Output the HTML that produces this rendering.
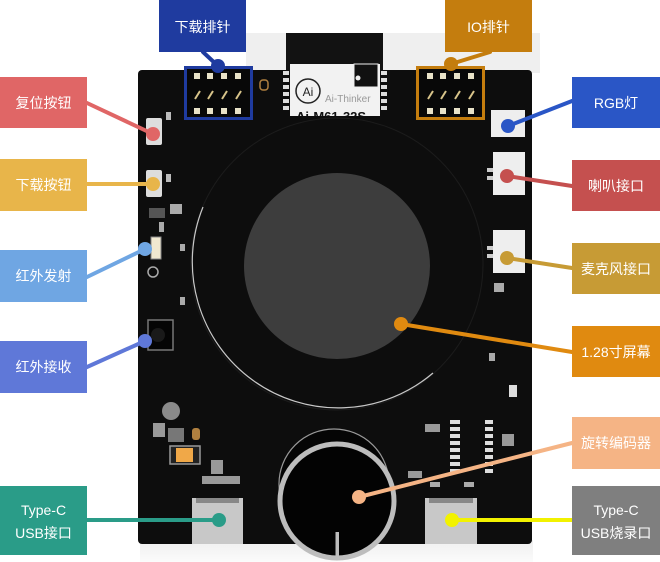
<!DOCTYPE html>
<html><head><meta charset="utf-8"><style>
html,body{margin:0;padding:0;background:#fff;}
svg{display:block;}
text{font-family:"Liberation Sans","Noto Sans CJK SC",sans-serif;}
.lb{fill:#fff;font-size:14px;text-anchor:middle;dominant-baseline:central;}
</style></head><body>
<svg width="660" height="562" viewBox="0 0 660 562" xmlns="http://www.w3.org/2000/svg">
<defs>
<linearGradient id="bg" x1="0" y1="0" x2="0" y2="1"><stop offset="0" stop-color="#efefef"/><stop offset="1" stop-color="#fbfbfb"/></linearGradient>
<clipPath id="modclip"><rect x="290" y="64" width="90" height="52"/></clipPath>
</defs>
<rect x="0" y="0" width="660" height="562" fill="#fff"/>
<rect x="246" y="33" width="294" height="40" fill="#efefef"/>
<rect x="140" y="540" width="393" height="22" fill="url(#bg)"/>

<!-- board -->
<rect x="138" y="70" width="394" height="474" rx="4" fill="#0d0d0d"/>

<!-- module -->
<rect x="286" y="33" width="97" height="40" fill="#121212"/>
<g clip-path="url(#modclip)">
<rect x="290" y="64" width="90" height="52" fill="#f2f2f2"/>
<text x="296" y="121" font-size="13" font-weight="bold" fill="#111">Ai-M61-32S</text>
</g>
<rect x="354" y="64" width="24" height="23" fill="#111" stroke="#eee" stroke-width="1"/>
<circle cx="358" cy="78" r="2.5" fill="#eee"/>
<circle cx="308" cy="91" r="12" fill="none" stroke="#222" stroke-width="1.5"/>
<text x="308" y="96" font-size="12" text-anchor="middle" fill="#222">Ai</text>
<text x="325" y="102" font-size="10" fill="#999">Ai-Thinker</text>
<g fill="#ddd">
<rect x="283" y="71" width="6" height="4"/><rect x="283" y="78" width="6" height="4"/><rect x="283" y="85" width="6" height="4"/><rect x="283" y="92" width="6" height="4"/><rect x="283" y="99" width="6" height="4"/><rect x="283" y="106" width="6" height="4"/>
<rect x="381" y="71" width="6" height="4"/><rect x="381" y="78" width="6" height="4"/><rect x="381" y="85" width="6" height="4"/><rect x="381" y="92" width="6" height="4"/><rect x="381" y="99" width="6" height="4"/><rect x="381" y="106" width="6" height="4"/>
</g>
<rect x="260" y="80" width="8" height="10" rx="3" fill="none" stroke="#b08040" stroke-width="1.5"/>

<!-- headers -->
<rect x="185.5" y="67.5" width="66" height="51" fill="#080808" stroke="#1f3b9f" stroke-width="3"/>
<rect x="417.5" y="67.5" width="66" height="51" fill="#080808" stroke="#c47d0e" stroke-width="3"/>
<g fill="#e8e2c8">
<rect x="194" y="73" width="6" height="6"/><rect x="207" y="73" width="6" height="6"/><rect x="221" y="73" width="6" height="6"/><rect x="235" y="73" width="6" height="6"/>
<rect x="194" y="108" width="6" height="6"/><rect x="207" y="108" width="6" height="6"/><rect x="221" y="108" width="6" height="6"/><rect x="235" y="108" width="6" height="6"/>
<rect x="427" y="73" width="6" height="6"/><rect x="440" y="73" width="6" height="6"/><rect x="454" y="73" width="6" height="6"/><rect x="468" y="73" width="6" height="6"/>
<rect x="427" y="108" width="6" height="6"/><rect x="440" y="108" width="6" height="6"/><rect x="454" y="108" width="6" height="6"/><rect x="468" y="108" width="6" height="6"/>
</g>
<g stroke="#d8c48a" stroke-width="2">
<line x1="195" y1="99" x2="200" y2="91"/><line x1="208" y1="99" x2="213" y2="91"/><line x1="222" y1="99" x2="227" y2="91"/><line x1="236" y1="99" x2="241" y2="91"/>
<line x1="428" y1="99" x2="433" y2="91"/><line x1="441" y1="99" x2="446" y2="91"/><line x1="455" y1="99" x2="460" y2="91"/><line x1="469" y1="99" x2="474" y2="91"/>
</g>

<!-- display -->
<circle cx="337" cy="264" r="146" fill="none" stroke="#1c1c1c" stroke-width="1"/>
<path d="M203 207 A146 146 0 0 0 433 373" fill="none" stroke="#c8c8c8" stroke-width="1.2"/>
<circle cx="337" cy="266" r="93" fill="#3d3d3d"/>

<!-- left components -->
<rect x="146" y="118" width="16" height="27" rx="2" fill="#ddd"/>
<rect x="166" y="112" width="5" height="8" fill="#bbb"/>
<rect x="146" y="170" width="16" height="27" rx="2" fill="#ddd"/>
<rect x="166" y="174" width="5" height="8" fill="#bbb"/>
<rect x="149" y="208" width="16" height="10" fill="#555"/>
<rect x="170" y="204" width="12" height="10" fill="#aaa"/>
<rect x="159" y="222" width="5" height="10" fill="#aaa"/>
<rect x="151" y="237" width="10" height="22" fill="#f0e8d0" stroke="#888" stroke-width="1"/>
<rect x="180" y="244" width="5" height="7" fill="#aaa"/>
<circle cx="153" cy="272" r="5" fill="none" stroke="#aaa" stroke-width="1.5"/>
<rect x="180" y="297" width="5" height="8" fill="#aaa"/>
<rect x="148" y="320" width="25" height="30" fill="#050505" stroke="#777" stroke-width="1.5"/>
<circle cx="158" cy="335" r="7" fill="#1a1a1a"/>
<circle cx="171" cy="411" r="9" fill="#8a8a8a"/>
<rect x="153" y="423" width="12" height="14" fill="#999"/>
<rect x="168" y="428" width="16" height="14" fill="#777"/>
<rect x="192" y="428" width="8" height="12" rx="3" fill="#b08040"/>
<rect x="170" y="446" width="30" height="18" fill="#222" stroke="#999" stroke-width="1.5"/>
<rect x="176" y="448" width="17" height="14" fill="#f0a848"/>
<rect x="211" y="460" width="12" height="14" fill="#999"/>
<rect x="202" y="476" width="38" height="8" fill="#999"/>
<rect x="192" y="498" width="51" height="46" fill="#c8c8c8"/>
<rect x="196" y="498" width="43" height="5" fill="#888"/>
<rect x="425" y="498" width="52" height="46" fill="#c8c8c8"/>
<rect x="429" y="498" width="44" height="5" fill="#888"/>

<!-- right components -->
<rect x="491" y="110" width="34" height="27" fill="#eee"/>
<rect x="493" y="152" width="32" height="43" fill="#eee"/>
<rect x="493" y="230" width="32" height="43" fill="#eee"/>
<rect x="487" y="168" width="6" height="4" fill="#ccc"/><rect x="487" y="176" width="6" height="4" fill="#ccc"/>
<rect x="487" y="246" width="6" height="4" fill="#ccc"/><rect x="487" y="254" width="6" height="4" fill="#ccc"/>
<rect x="494" y="283" width="10" height="9" fill="#aaa"/>
<rect x="489" y="353" width="6" height="8" fill="#aaa"/>
<rect x="509" y="385" width="8" height="12" fill="#ddd"/>
<rect x="425" y="424" width="15" height="8" fill="#999"/>
<g fill="#ddd">
<rect x="450" y="420" width="10" height="4"/><rect x="450" y="427" width="10" height="4"/><rect x="450" y="434" width="10" height="4"/><rect x="450" y="441" width="10" height="4"/><rect x="450" y="448" width="10" height="4"/><rect x="450" y="455" width="10" height="4"/><rect x="450" y="462" width="10" height="4"/><rect x="450" y="469" width="10" height="4"/>
<rect x="485" y="420" width="8" height="4"/><rect x="485" y="427" width="8" height="4"/><rect x="485" y="434" width="8" height="4"/><rect x="485" y="441" width="8" height="4"/><rect x="485" y="448" width="8" height="4"/><rect x="485" y="455" width="8" height="4"/><rect x="485" y="462" width="8" height="4"/><rect x="485" y="469" width="8" height="4"/>
</g>
<rect x="502" y="434" width="12" height="12" fill="#999"/>
<rect x="408" y="471" width="14" height="7" fill="#999"/>
<rect x="430" y="482" width="10" height="5" fill="#aaa"/>
<rect x="464" y="482" width="10" height="5" fill="#aaa"/>

<!-- encoder -->
<circle cx="334" cy="484" r="55" fill="#050505" stroke="#999" stroke-width="1.2"/>
<circle cx="337" cy="501" r="57" fill="#030303" stroke="#bdbdbd" stroke-width="5"/>
<rect x="335.5" y="532" width="3.5" height="26" fill="#bdbdbd"/>

<!-- connector lines -->
<g stroke-width="4" stroke-linecap="round">
<line x1="203" y1="52" x2="218" y2="66" stroke="#1f3b9f"/>
<line x1="490" y1="52" x2="451" y2="64" stroke="#c47d0e"/>
<line x1="87" y1="103" x2="153" y2="134" stroke="#e06666"/>
<line x1="87" y1="184" x2="153" y2="184" stroke="#e8b54a"/>
<line x1="87" y1="277" x2="145" y2="249" stroke="#6fa6e3"/>
<line x1="87" y1="367" x2="145" y2="341" stroke="#5f78d8"/>
<line x1="87" y1="520" x2="219" y2="520" stroke="#2a9c88"/>
<line x1="572" y1="101" x2="508" y2="126" stroke="#2a56c6"/>
<line x1="572" y1="186" x2="507" y2="176" stroke="#c5504f"/>
<line x1="572" y1="268" x2="507" y2="258" stroke="#c79b35"/>
<line x1="572" y1="352" x2="401" y2="324" stroke="#e08a10"/>
<line x1="572" y1="443" x2="359" y2="497" stroke="#f5b485"/>
<line x1="572" y1="520" x2="452" y2="520" stroke="#f2f200"/>
</g>
<circle cx="218" cy="66" r="7" fill="#1f3b9f"/>
<circle cx="451" cy="64" r="7" fill="#c47d0e"/>
<circle cx="153" cy="134" r="7" fill="#e06666"/>
<circle cx="153" cy="184" r="7" fill="#e8b54a"/>
<circle cx="145" cy="249" r="7" fill="#6fa6e3"/>
<circle cx="145" cy="341" r="7" fill="#5f78d8"/>
<circle cx="219" cy="520" r="7" fill="#2a9c88"/>
<circle cx="508" cy="126" r="7" fill="#2a56c6"/>
<circle cx="507" cy="176" r="7" fill="#c5504f"/>
<circle cx="507" cy="258" r="7" fill="#c79b35"/>
<circle cx="401" cy="324" r="7" fill="#e08a10"/>
<circle cx="359" cy="497" r="7" fill="#f5b485"/>
<circle cx="452" cy="520" r="7" fill="#f2f200"/>

<!-- label boxes -->
<rect x="159" y="0" width="87" height="52" fill="#1f3b9f"/><text class="lb" x="202.5" y="27">下载排针</text>
<rect x="445" y="0" width="87" height="52" fill="#c47d0e"/><text class="lb" x="488.5" y="27">IO排针</text>
<rect x="0" y="77" width="87" height="51" fill="#e06666"/><text class="lb" x="43.5" y="103">复位按钮</text>
<rect x="0" y="159" width="87" height="52" fill="#e8b54a"/><text class="lb" x="43.5" y="185">下载按钮</text>
<rect x="0" y="250" width="87" height="52" fill="#6fa6e3"/><text class="lb" x="43.5" y="276">红外发射</text>
<rect x="0" y="341" width="87" height="52" fill="#5f78d8"/><text class="lb" x="43.5" y="367">红外接收</text>
<rect x="0" y="486" width="87" height="69" fill="#2a9c88"/><text class="lb" x="43.5" y="510">Type-C</text><text class="lb" x="43.5" y="533">USB接口</text>
<rect x="572" y="77" width="88" height="51" fill="#2a56c6"/><text class="lb" x="616" y="103">RGB灯</text>
<rect x="572" y="160" width="88" height="51" fill="#c5504f"/><text class="lb" x="616" y="186">喇叭接口</text>
<rect x="572" y="243" width="88" height="51" fill="#c79b35"/><text class="lb" x="616" y="269">麦克风接口</text>
<rect x="572" y="326" width="88" height="51" fill="#e08a10"/><text class="lb" x="616" y="352">1.28寸屏幕</text>
<rect x="572" y="417" width="88" height="52" fill="#f5b485"/><text class="lb" x="616" y="443">旋转编码器</text>
<rect x="572" y="486" width="88" height="69" fill="#7f7f7f"/><text class="lb" x="616" y="510">Type-C</text><text class="lb" x="616" y="533">USB烧录口</text>
</svg>
</body></html>
